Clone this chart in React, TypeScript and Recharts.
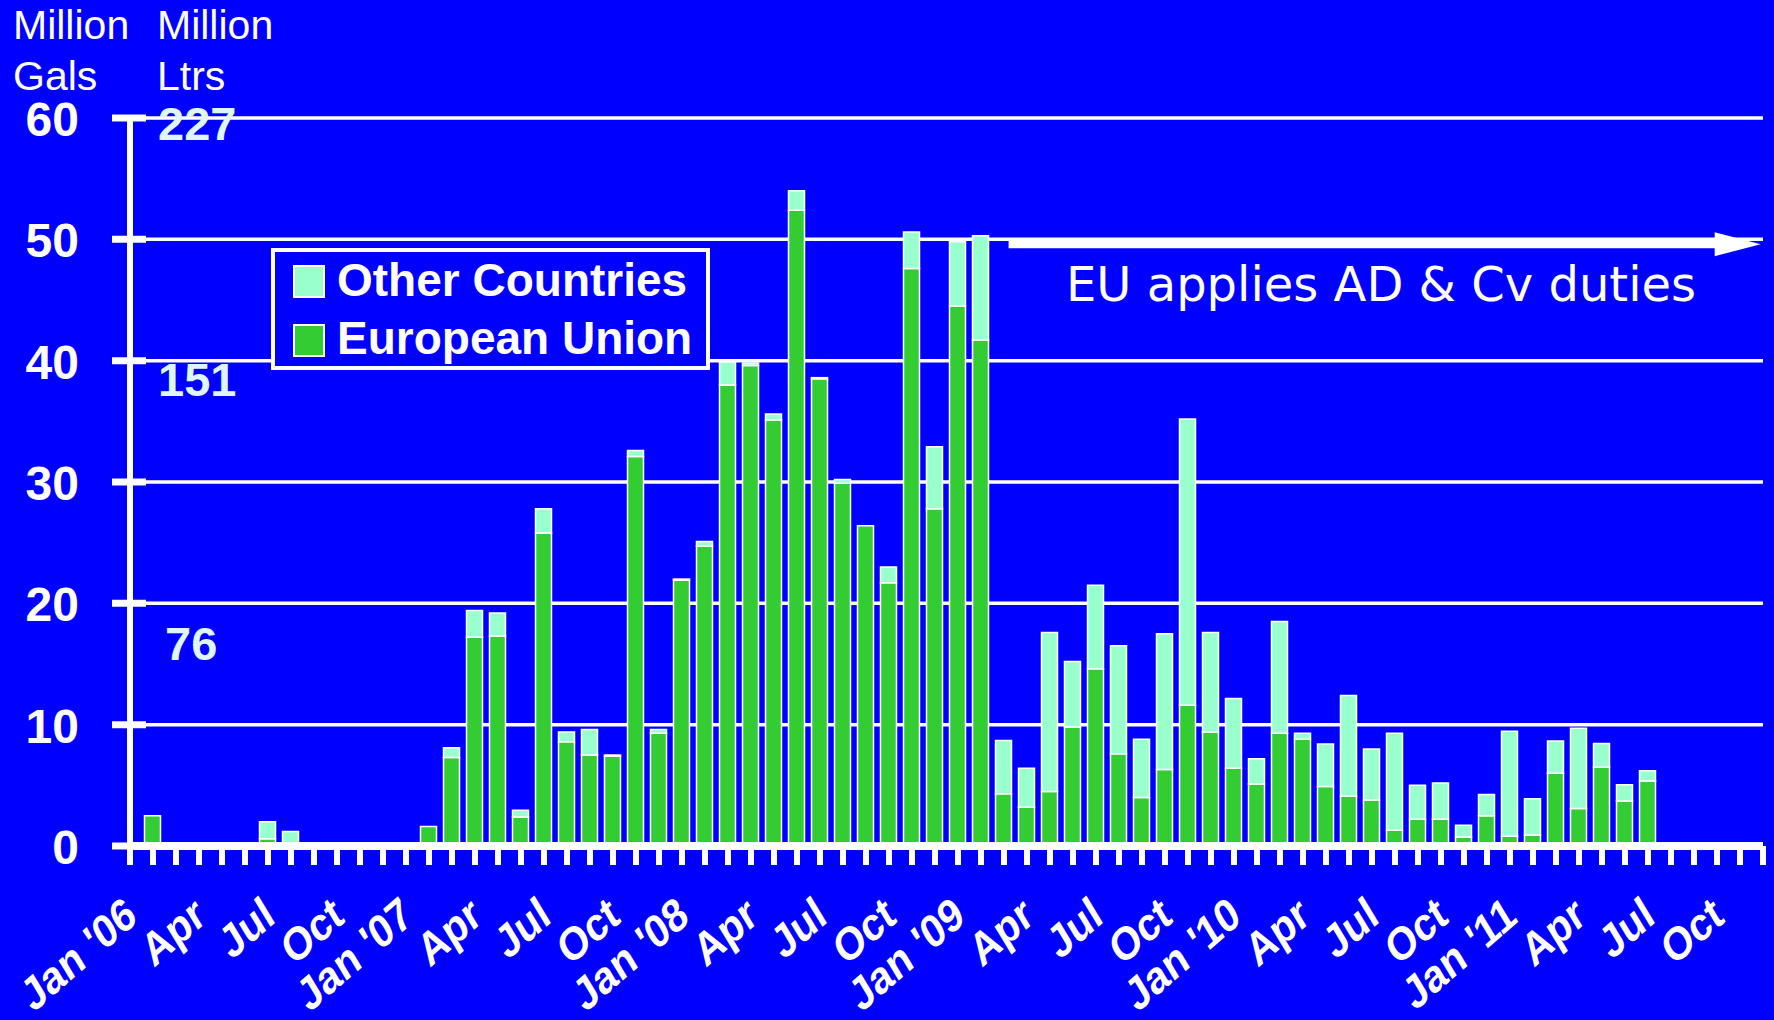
import React from 'react';
import { Bar, BarChart, CartesianGrid, ReferenceLine, XAxis, YAxis } from 'recharts';

// Monthly imports, Jan 2006 .. Dec 2011 (million gallons)
const MONTHS = [
  'Jan 06', 'Feb 06', 'Mar 06', 'Apr 06', 'May 06', 'Jun 06', 'Jul 06', 'Aug 06', 'Sep 06', 'Oct 06', 'Nov 06', 'Dec 06',
  'Jan 07', 'Feb 07', 'Mar 07', 'Apr 07', 'May 07', 'Jun 07', 'Jul 07', 'Aug 07', 'Sep 07', 'Oct 07', 'Nov 07', 'Dec 07',
  'Jan 08', 'Feb 08', 'Mar 08', 'Apr 08', 'May 08', 'Jun 08', 'Jul 08', 'Aug 08', 'Sep 08', 'Oct 08', 'Nov 08', 'Dec 08',
  'Jan 09', 'Feb 09', 'Mar 09', 'Apr 09', 'May 09', 'Jun 09', 'Jul 09', 'Aug 09', 'Sep 09', 'Oct 09', 'Nov 09', 'Dec 09',
  'Jan 10', 'Feb 10', 'Mar 10', 'Apr 10', 'May 10', 'Jun 10', 'Jul 10', 'Aug 10', 'Sep 10', 'Oct 10', 'Nov 10', 'Dec 10',
  'Jan 11', 'Feb 11', 'Mar 11', 'Apr 11', 'May 11', 'Jun 11', 'Jul 11', 'Aug 11', 'Sep 11', 'Oct 11', 'Nov 11', 'Dec 11',
];

const EU = [
  0, 2.5, 0, 0, 0, 0, 0.6, 0, 0, 0, 0, 0,
  0, 1.6, 7.3, 17.2, 17.3, 2.4, 25.8, 8.6, 7.5, 7.4, 32.1, 9.3,
  21.9, 24.7, 38.0, 39.6, 35.1, 52.4, 38.5, 29.9, 26.4, 21.7, 47.6, 27.8,
  44.5, 41.7, 4.3, 3.2, 4.5, 9.8, 14.6, 7.6, 4.0, 6.3, 11.6, 9.4,
  6.4, 5.1, 9.3, 8.8, 4.9, 4.1, 3.8, 1.3, 2.2, 2.2, 0.75, 2.5,
  0.8, 0.9, 6.0, 3.1, 6.5, 3.7, 5.35, 0, 0, 0, 0, 0,
];

const OTHER = [
  0, 0, 0, 0, 0, 0, 1.4, 1.2, 0, 0, 0, 0,
  0, 0, 0.8, 2.2, 1.9, 0.55, 2.0, 0.8, 2.1, 0.1, 0.5, 0.3,
  0.1, 0.4, 1.9, 0.2, 0.5, 1.6, 0.1, 0.3, 0, 1.3, 3.0, 5.1,
  5.3, 8.6, 4.4, 3.2, 13.1, 5.4, 6.9, 8.9, 4.8, 11.2, 23.6, 8.2,
  5.75, 2.1, 9.2, 0.5, 3.5, 8.3, 4.2, 8.0, 2.8, 3.0, 0.95, 1.75,
  8.65, 3.0, 2.65, 6.6, 1.95, 1.35, 0.85, 0, 0, 0, 0, 0,
];

// one label every third month
const QUARTER_LABELS = [
  "Jan '06", 'Apr', 'Jul', 'Oct',
  "Jan '07", 'Apr', 'Jul', 'Oct',
  "Jan '08", 'Apr', 'Jul', 'Oct',
  "Jan '09", 'Apr', 'Jul', 'Oct',
  "Jan '10", 'Apr', 'Jul', 'Oct',
  "Jan '11", 'Apr', 'Jul', 'Oct',
];

const GAL_TICKS = [0, 10, 20, 30, 40, 50, 60];
const LITRE_MARKS = [
  { text: '227', x: 158, y: 140 },
  { text: '151', x: 158, y: 396 },
  { text: '76', x: 165, y: 660 },
];

const SERIES = [
  { key: 'other', name: 'Other Countries', color: '#99ffcc' },
  { key: 'eu', name: 'European Union', color: '#33cc33' },
];

const BG = '#0000ff';
const BOLD = '"Liberation Sans", Arial, sans-serif';

const data = MONTHS.map((m, i) => ({ idx: i, month: m, eu: EU[i], other: OTHER[i] }));
const monthTicks = MONTHS.map((_, i) => i);

function MonthTick(props: any) {
  const { x, y, payload } = props;
  const i = payload.value as number;
  if (i % 3 !== 0) return <g />;
  // the original picture is stretched a little vertically
  return (
    <text
      transform={`translate(${x + 9},${y + 56}) scale(1,1.2) rotate(-36)`}
      textAnchor="end"
      fill="#fff"
      fontFamily={BOLD}
      fontWeight="bold"
      fontSize={39}
    >
      {QUARTER_LABELS[i / 3]}
    </text>
  );
}

function GalTick(props: any) {
  const { x, y, payload } = props;
  return (
    <g>
      <line x1={x - 18} x2={x + 16} y1={y} y2={y} stroke="#fff" strokeWidth={7} />
      <text x={x - 51} y={y + 18} textAnchor="end" fill="#fff" fontFamily={BOLD} fontWeight="bold" fontSize={48}>
        {payload.value}
      </text>
    </g>
  );
}

function DutyArrow(props: any) {
  const { x1, y1, x2 } = props;
  return (
    <g>
      <line x1={x1} x2={x2 - 40} y1={y1} y2={y1} stroke="#fff" strokeWidth={8} />
      <polygon points={`${x2 - 46},${y1 - 12} ${x2},${y1} ${x2 - 46},${y1 + 12}`} fill="#fff" />
    </g>
  );
}

export default function App() {
  return (
    <div style={{ position: 'absolute', left: 0, top: 0, width: 1774, height: 1020, background: BG, overflow: 'hidden' }}>
      <BarChart
        width={1774}
        height={1020}
        data={data}
        margin={{ top: 118, right: 11, bottom: 24, left: 10 }}
        barSize={16}
      >
        <CartesianGrid vertical={false} stroke="#fff" strokeWidth={3.5} />
        <XAxis
          type="number"
          dataKey="idx"
          domain={[0, 71]}
          ticks={monthTicks}
          interval={0}
          height={150}
          axisLine={{ stroke: '#fff', strokeWidth: 8 }}
          tickLine={{ stroke: '#fff', strokeWidth: 6 }}
          tickSize={19}
          tickMargin={0}
          tick={<MonthTick />}
        />
        <YAxis
          domain={[0, 60]}
          ticks={GAL_TICKS}
          width={120}
          axisLine={{ stroke: '#fff', strokeWidth: 6 }}
          tickLine={false}
          tickSize={0}
          tickMargin={0}
          tick={<GalTick />}
        />
        <Bar dataKey="eu" name="European Union" stackId="a" fill="#33cc33" stroke="#fff" strokeWidth={1.5} isAnimationActive={false} />
        <Bar dataKey="other" name="Other Countries" stackId="a" fill="#99ffcc" stroke="#fff" strokeWidth={1.5} isAnimationActive={false} />
        <ReferenceLine
          segment={[{ x: 38.2, y: 49.6 }, { x: 70.9, y: 49.6 }]}
          shape={<DutyArrow />}
        />
      </BarChart>

      <svg width={1774} height={1020} style={{ position: 'absolute', left: 0, top: 0, pointerEvents: 'none' }}>
        <g fill="#fff" fontFamily={BOLD} fontSize={41}>
          <text x={13} y={39}>Million</text>
          <text x={13} y={90}>Gals</text>
          <text x={157} y={39}>Million</text>
          <text x={157} y={90}>Ltrs</text>
        </g>
        {LITRE_MARKS.map((m) => (
          <text key={m.text} x={m.x} y={m.y} fill="#def6fa" fontFamily={BOLD} fontWeight="bold" fontSize={47}>
            {m.text}
          </text>
        ))}
        <text x={1066} y={301} fill="#fff" fontFamily='"DejaVu Sans", Verdana, sans-serif' fontSize={48}>
          EU applies AD &amp; Cv duties
        </text>

        {/* legend */}
        <rect x={273} y={250} width={435} height={118} fill={BG} stroke="#fff" strokeWidth={4} />
        {SERIES.map((s, i) => (
          <g key={s.key}>
            <rect x={294} y={266 + i * 59} width={30} height={31} fill={s.color} stroke="#fff" strokeWidth={2} />
            <text x={337} y={296 + i * 58} fill="#fff" fontFamily={BOLD} fontWeight="bold" fontSize={46}>
              {s.name}
            </text>
          </g>
        ))}
      </svg>
    </div>
  );
}
